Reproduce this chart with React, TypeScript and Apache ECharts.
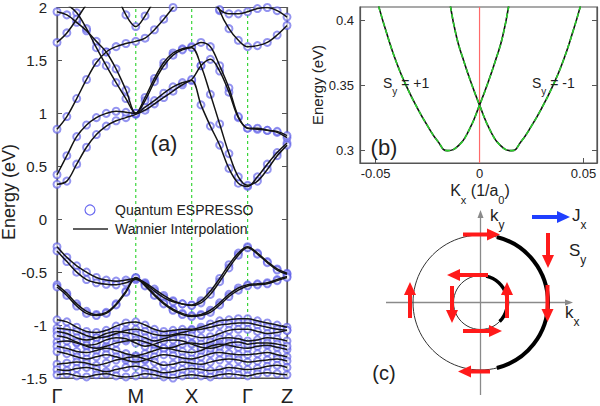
import React, { useEffect, useRef } from 'react';
import * as echarts from 'echarts';

// ---------- Panel (a): band structure ----------
const kPath = [0, 0.125, 0.25, 0.375, 0.5, 0.625, 0.75, 0.875, 1, 1.118, 1.237, 1.355, 1.473, 1.592, 1.71, 1.828, 1.947, 2.065, 2.183, 2.302, 2.42, 2.545, 2.67, 2.795, 2.92];
const symK = [0, 1, 1.71, 2.42, 2.92];
const symLabels = ['Γ', 'M', 'X', 'Γ', 'Z'];
const guideK = [1, 1.71, 2.42];
const energyRange = [-1.5, 2];

const bandL1 = [0.33, 0.36, 0.52, 0.68, 0.80, 0.88, 0.93, 0.96, 0.99, 1.03, 1.09, 1.15, 1.21, 1.27, 1.31, 1.08, 0.88, 0.70, 0.48, 0.34, 0.31, 0.40, 0.52, 0.63, 0.72];
const bandL2 = [0.42, 0.60, 0.78, 0.89, 0.96, 1.00, 1.02, 1.01, 1.00, 1.06, 1.12, 1.19, 1.25, 1.29, 1.32, 1.45, 1.51, 1.40, 1.20, 0.96, 0.86, 0.85, 0.84, 0.82, 0.77];
const bandL3 = [0.85, 0.97, 1.14, 1.32, 1.48, 1.58, 1.63, 1.66, 1.68, 1.71, 1.79, 1.89, 2.00, 2.12, 2.25, 2.45, 2.25, 1.97, 1.80, 1.69, 1.63, 1.64, 1.67, 1.74, 1.83];
const bandL4 = [1.96, 1.93, 1.86, 1.78, 1.68, 1.58, 1.42, 1.22, 1.00, 1.15, 1.33, 1.48, 1.57, 1.61, 1.63, 1.67, 1.63, 1.45, 1.24, 0.97, 0.86, 0.86, 0.84, 0.83, 0.79];
const bandL5 = [2.08, 2.03, 1.95, 1.80, 1.62, 1.45, 1.29, 1.14, 1.00, 1.12, 1.30, 1.45, 1.55, 1.60, 1.62, 1.45, 1.18, 0.90, 0.62, 0.40, 0.32, 0.36, 0.47, 0.60, 0.70];
const bandL6 = [1.67, 1.76, 1.89, 2.03, 2.15, null, null, null, null, null, null, null, null, null, null, null, null, null, null, null, null, null, null, null, null];
const bandL7 = [null, null, null, null, null, null, 2.15, 1.93, 1.82, 1.92, 2.08, null, null, null, null, null, null, null, null, null, null, null, null, null, null];
const bandL8 = [null, null, null, null, null, null, null, null, null, null, null, null, null, null, null, null, 2.08, 1.98, 1.94, 1.94, 1.96, 1.99, 2.00, 1.97, 1.91];

const bandV1 = [-0.26, -0.36, -0.44, -0.50, -0.55, -0.575, -0.585, -0.575, -0.56, -0.60, -0.66, -0.72, -0.77, -0.80, -0.81, -0.77, -0.68, -0.56, -0.43, -0.32, -0.26, -0.32, -0.40, -0.47, -0.51];
const bandV2 = [-0.30, -0.40, -0.50, -0.57, -0.60, -0.615, -0.62, -0.60, -0.57, -0.61, -0.68, -0.74, -0.78, -0.80, -0.815, -0.79, -0.71, -0.59, -0.46, -0.34, -0.27, -0.33, -0.41, -0.48, -0.52];
const bandV3 = [-0.62, -0.70, -0.80, -0.87, -0.90, -0.88, -0.80, -0.68, -0.55, -0.62, -0.71, -0.79, -0.85, -0.89, -0.91, -0.90, -0.86, -0.79, -0.71, -0.65, -0.62, -0.61, -0.60, -0.57, -0.54];
const bandV4 = [-0.64, -0.72, -0.82, -0.89, -0.91, -0.89, -0.81, -0.69, -0.555, -0.63, -0.72, -0.80, -0.86, -0.90, -0.92, -0.91, -0.88, -0.81, -0.73, -0.67, -0.63, -0.62, -0.61, -0.58, -0.55];

const bandD1 = [-0.95, -0.97, -1.02, -1.06, -1.07, -1.05, -1.01, -0.98, -0.97, -1.00, -1.04, -1.06, -1.05, -1.04, -1.04, -1.02, -0.99, -0.96, -0.95, -0.94, -0.94, -0.96, -0.98, -1.00, -1.02];
const bandD2 = [-1.03, -1.04, -1.06, -1.10, -1.12, -1.11, -1.08, -1.05, -1.04, -1.06, -1.09, -1.10, -1.09, -1.07, -1.05, -1.04, -1.02, -1.00, -0.99, -0.98, -0.98, -1.00, -1.02, -1.04, -1.05];
const bandD3 = [-1.06, -1.08, -1.12, -1.14, -1.12, -1.08, -1.06, -1.07, -1.09, -1.12, -1.15, -1.13, -1.10, -1.09, -1.10, -1.12, -1.11, -1.08, -1.05, -1.04, -1.04, -1.06, -1.08, -1.07, -1.05];
const bandD4 = [-1.16, -1.15, -1.17, -1.20, -1.22, -1.20, -1.17, -1.15, -1.14, -1.16, -1.19, -1.22, -1.21, -1.18, -1.17, -1.18, -1.16, -1.13, -1.12, -1.13, -1.15, -1.14, -1.12, -1.13, -1.15];
const bandD5 = [-1.20, -1.22, -1.25, -1.26, -1.24, -1.22, -1.24, -1.27, -1.29, -1.27, -1.24, -1.22, -1.23, -1.25, -1.26, -1.24, -1.20, -1.18, -1.19, -1.21, -1.22, -1.20, -1.19, -1.21, -1.23];
const bandD6 = [-1.25, -1.27, -1.30, -1.32, -1.30, -1.28, -1.30, -1.33, -1.35, -1.33, -1.30, -1.28, -1.29, -1.31, -1.32, -1.30, -1.27, -1.26, -1.27, -1.28, -1.28, -1.27, -1.26, -1.28, -1.30];
const bandD7 = [-1.37, -1.36, -1.35, -1.36, -1.38, -1.36, -1.33, -1.31, -1.30, -1.32, -1.35, -1.38, -1.37, -1.35, -1.36, -1.37, -1.35, -1.33, -1.32, -1.33, -1.35, -1.34, -1.33, -1.32, -1.34];
const bandD8 = [-1.42, -1.43, -1.41, -1.40, -1.42, -1.44, -1.42, -1.40, -1.39, -1.41, -1.43, -1.45, -1.44, -1.42, -1.41, -1.42, -1.43, -1.42, -1.40, -1.41, -1.42, -1.41, -1.39, -1.38, -1.40];
const bandD9 = [-1.47, -1.46, -1.48, -1.49, -1.47, -1.46, -1.48, -1.49, -1.48, -1.46, -1.47, -1.49, -1.50, -1.48, -1.47, -1.48, -1.49, -1.47, -1.46, -1.47, -1.48, -1.46, -1.45, -1.46, -1.47];
const bandD10 = [-1.10, -1.12, -1.16, -1.19, -1.18, -1.14, -1.12, -1.13, -1.17, -1.20, -1.18, -1.15, -1.14, -1.15, -1.18, -1.21, -1.22, -1.20, -1.17, -1.16, -1.18, -1.17, -1.17, -1.18, -1.20];

const allBands = [bandL1, bandL2, bandL3, bandL4, bandL5, bandL6, bandL7, bandL8, bandV1, bandV2, bandV3, bandV4, bandD1, bandD2, bandD3, bandD4, bandD5, bandD6, bandD7, bandD8, bandD9, bandD10];

// ---------- Panel (b): Rashba-split bands ----------
const kxPlus = [-0.0485, -0.045, -0.040, -0.035, -0.030, -0.025, -0.020, -0.0155, -0.010, -0.005, 0, 0.004, 0.008, 0.011, 0.014];
const eSyPlus = [0.411, 0.392, 0.368, 0.349, 0.333, 0.319, 0.307, 0.300, 0.304, 0.316, 0.335, 0.352, 0.371, 0.387, 0.411];
const kxMinus = [-0.014, -0.011, -0.008, -0.004, 0, 0.005, 0.010, 0.0155, 0.020, 0.025, 0.030, 0.035, 0.040, 0.045, 0.0485];
const eSyMinus = [0.411, 0.387, 0.371, 0.352, 0.335, 0.316, 0.304, 0.300, 0.307, 0.319, 0.333, 0.349, 0.368, 0.392, 0.411];
const kxTicks = [-0.05, 0, 0.05];
const eTicksB = [0.3, 0.35, 0.4];
const eRangeB = [0.2905, 0.4105];

const FONT = 'Liberation Sans, Arial, Helvetica, sans-serif';
const TXT = '#222';
const GREEN = '#3ad63a';

function arrowEls(x1: number, y1: number, x2: number, y2: number, color: string, w: number, hl: number, hw: number, z = 10) {
  const dx = x2 - x1, dy = y2 - y1;
  const L = Math.hypot(dx, dy);
  const ux = dx / L, uy = dy / L;
  const bx = x2 - ux * hl, by = y2 - uy * hl;
  return [
    { type: 'line', z, shape: { x1, y1, x2: bx + ux, y2: by + uy }, style: { stroke: color, lineWidth: w } },
    { type: 'polygon', z, shape: { points: [[x2, y2], [bx - uy * hw / 2, by + ux * hw / 2], [bx + uy * hw / 2, by - ux * hw / 2]] }, style: { fill: color } },
  ];
}

function txt(x: number, y: number, text: string, size: number, align = 'left', rotation = 0) {
  return {
    type: 'text', x, y, z: 20, rotation,
    style: { text, fontSize: size, fontFamily: FONT, fill: TXT, textAlign: align, align, textVerticalAlign: 'middle', verticalAlign: 'middle' },
  };
}

function richTxt(x: number, y: number, parts: [string, boolean][], size: number, subSize: number, align = 'left') {
  return {
    type: 'text', x, y, z: 20,
    style: {
      text: parts.map(([s, sub]) => `{${sub ? 'b' : 'a'}|${s}}`).join(''),
      fontFamily: FONT, fill: TXT, textAlign: align, align, textVerticalAlign: 'middle', verticalAlign: 'middle',
      rich: {
        a: { fontSize: size, fontFamily: FONT, fill: TXT, verticalAlign: 'top', lineHeight: size + 7 },
        b: { fontSize: subSize, fontFamily: FONT, fill: TXT, verticalAlign: 'bottom', lineHeight: size + 7 },
      },
    },
  };
}

export default function App() {
  const ref = useRef<HTMLDivElement>(null);
  useEffect(() => {
    if (!ref.current) return;
    const chart = echarts.init(ref.current, undefined, { renderer: 'svg' });

    const circles: number[][] = [];
    allBands.forEach((b) => b.forEach((v, i) => { if (v !== null && v >= -1.52 && v <= 2.02) circles.push([kPath[i], v as number]); }));

    const bandSeries: any[] = allBands.map((b) => ({
      type: 'line', xAxisIndex: 0, yAxisIndex: 0, smooth: 0.35, showSymbol: false, silent: true,
      data: b.map((v, i) => [kPath[i], v]),
      lineStyle: { color: '#141414', width: 1.5 },
      z: 4,
    }));

    const guideSeries: any[] = guideK.map((k) => ({
      type: 'line', xAxisIndex: 0, yAxisIndex: 0, showSymbol: false, silent: true, z: 1,
      data: [[k, energyRange[0]], [k, energyRange[1]]],
      lineStyle: { color: GREEN, type: [3, 3], width: 1.2 },
    }));

    const cx = 480.5, cy = 302.5;
    const red = '#ff1a1a';
    const gray = '#8a8a8a';

    const graphic: any[] = [
      // Panel (a) texts
      txt(9, 192, 'Energy (eV)', 18, 'center', Math.PI / 2),
      txt(164, 143, '(a)', 22, 'center'),
      { type: 'circle', z: 20, shape: { cx: 90, cy: 210, r: 5 }, style: { fill: 'none', stroke: '#6a6af0', lineWidth: 1.2 } },
      txt(115, 210, 'Quantum ESPRESSO', 14),
      { type: 'line', z: 20, shape: { x1: 73, y1: 229, x2: 108, y2: 229 }, style: { stroke: '#2a2a2a', lineWidth: 1.4 } },
      txt(115, 229, 'Wannier Interpolation', 14),
      // Panel (b) texts
      txt(317, 85, 'Energy (eV)', 15, 'center', Math.PI / 2),
      richTxt(480, 194, [['K', false], ['x', true], [' (1/a', false], ['0', true], [')', false]], 16, 11, 'center'),
      richTxt(383, 86, [['S', false], ['y', true], [' = +1', false]], 14, 10),
      richTxt(532, 86, [['S', false], ['y', true], [' = -1', false]], 14, 10),
      txt(384, 147, '(b)', 22, 'center'),
      // Panel (c)
      { type: 'circle', z: 5, shape: { cx, cy, r: 67.5 }, style: { fill: 'none', stroke: '#333', lineWidth: 1 } },
      { type: 'circle', z: 5, shape: { cx, cy, r: 27 }, style: { fill: 'none', stroke: '#333', lineWidth: 1 } },
      { type: 'arc', z: 6, shape: { cx, cy, r: 67.5, startAngle: -76 * Math.PI / 180, endAngle: 76 * Math.PI / 180, clockwise: true }, style: { fill: 'none', stroke: '#000', lineWidth: 4 } },
      { type: 'arc', z: 6, shape: { cx, cy, r: 27, startAngle: -78 * Math.PI / 180, endAngle: 45 * Math.PI / 180, clockwise: true }, style: { fill: 'none', stroke: '#000', lineWidth: 3.5 } },
      ...arrowEls(386, cy, 573, cy, gray, 1.3, 8, 6, 4),
      ...arrowEls(cx, 395, cx, 210, gray, 1.3, 8, 6, 4),
      ...arrowEls(463, 234.5, 500, 234.5, red, 4, 13, 12),
      ...arrowEls(547.5, 285, 547.5, 322, red, 4, 13, 12),
      ...arrowEls(490, 371.5, 458, 371.5, red, 4, 13, 12),
      ...arrowEls(410, 318, 410, 282, red, 4, 13, 12),
      ...arrowEls(548, 233, 548, 268, red, 4, 13, 12),
      ...arrowEls(488, 275, 447, 275, red, 4, 13, 12),
      ...arrowEls(507, 318, 507, 282, red, 4, 13, 12),
      ...arrowEls(463, 331, 502, 331, red, 4, 13, 12),
      ...arrowEls(452, 286, 452, 323, red, 4, 13, 12),
      ...arrowEls(532, 217, 570, 217, '#1f3fff', 4, 13, 12),
      richTxt(490, 219, [['k', false], ['y', true]], 17, 12),
      richTxt(565, 316, [['k', false], ['x', true]], 17, 12),
      richTxt(572, 219, [['J', false], ['x', true]], 17, 12),
      richTxt(569, 254, [['S', false], ['y', true]], 17, 12),
      txt(384, 373, '(c)', 20, 'center'),
    ];

    const axisLineStyle = { show: true, onZero: false, lineStyle: { color: '#555', width: 1.2 } };

    const option: any = {
      animation: false,
      backgroundColor: '#fff',
      textStyle: { fontFamily: FONT },
      grid: [
        { left: 57, top: 7.5, width: 230, height: 373, show: true, borderColor: '#555', borderWidth: 1.2 },
        { left: 360, top: 7, width: 237, height: 156, show: true, borderColor: '#555', borderWidth: 1.2 },
      ],
      xAxis: [
        {
          gridIndex: 0, type: 'value', min: 0, max: 2.92,
          axisLine: axisLineStyle,
          axisTick: { show: false },
          splitLine: { show: false },
          axisLabel: {
            customValues: symK, fontSize: 20, color: TXT, margin: 8, fontFamily: FONT,
            formatter: (v: number) => {
              let best = 0;
              symK.forEach((s, i) => { if (Math.abs(s - v) < Math.abs(symK[best] - v)) best = i; });
              return symLabels[best];
            },
          },
        },
        {
          gridIndex: 1, type: 'value', min: -0.0575, max: 0.0565,
          axisLine: axisLineStyle,
          axisTick: { show: true, inside: true, length: 5, customValues: kxTicks, lineStyle: { color: '#555' } },
          splitLine: { show: false },
          axisLabel: { customValues: kxTicks, fontSize: 13, color: TXT, margin: 4, fontFamily: FONT, formatter: (v: number) => String(Math.round(v * 100) / 100) },
        },
      ],
      yAxis: [
        {
          gridIndex: 0, type: 'value', min: energyRange[0], max: energyRange[1], interval: 0.5,
          axisLine: axisLineStyle,
          axisTick: { show: true, inside: true, length: 5, lineStyle: { color: '#555' } },
          splitLine: { show: false },
          axisLabel: { fontSize: 15, color: TXT, margin: 10, fontFamily: FONT },
        },
        {
          gridIndex: 0, type: 'value', position: 'right', min: energyRange[0], max: energyRange[1], interval: 0.5,
          axisLine: axisLineStyle,
          axisTick: { show: true, inside: true, length: 5, lineStyle: { color: '#555' } },
          splitLine: { show: false },
          axisLabel: { show: false },
        },
        {
          gridIndex: 1, type: 'value', min: eRangeB[0], max: eRangeB[1],
          axisLine: axisLineStyle,
          axisTick: { show: true, inside: true, length: 5, customValues: eTicksB, lineStyle: { color: '#555' } },
          splitLine: { show: false },
          axisLabel: { customValues: eTicksB, fontSize: 13, color: TXT, margin: 6, fontFamily: FONT, formatter: (v: number) => String(Math.round(v * 100) / 100) },
        },
        {
          gridIndex: 1, type: 'value', position: 'right', min: eRangeB[0], max: eRangeB[1],
          axisLine: axisLineStyle,
          axisTick: { show: true, inside: true, length: 5, customValues: eTicksB, lineStyle: { color: '#555' } },
          splitLine: { show: false },
          axisLabel: { show: false },
        },
      ],
      series: [
        ...guideSeries,
        ...bandSeries,
        {
          type: 'scatter', xAxisIndex: 0, yAxisIndex: 0, silent: true, z: 3,
          symbol: 'emptyCircle', symbolSize: 7,
          itemStyle: { color: '#5a5ae8', borderWidth: 0.9, opacity: 0.65 },
          data: circles,
        },
        {
          type: 'line', xAxisIndex: 1, yAxisIndex: 2, showSymbol: false, silent: true, z: 1,
          data: [[0, eRangeB[0]], [0, eRangeB[1]]],
          lineStyle: { color: '#ff6a6a', width: 1.2 },
        },
        {
          type: 'line', xAxisIndex: 1, yAxisIndex: 2, smooth: true, showSymbol: false, silent: true,
          data: kxPlus.map((k, i) => [k, eSyPlus[i]]),
          lineStyle: { color: '#111', width: 1.6 }, z: 3,
        },
        {
          type: 'line', xAxisIndex: 1, yAxisIndex: 2, smooth: true, showSymbol: false, silent: true,
          data: kxMinus.map((k, i) => [k, eSyMinus[i]]),
          lineStyle: { color: '#111', width: 1.6 }, z: 3,
        },
        {
          type: 'line', xAxisIndex: 1, yAxisIndex: 2, smooth: true, showSymbol: false, silent: true,
          data: kxPlus.map((k, i) => [k, eSyPlus[i]]),
          lineStyle: { color: '#2ccc2c', width: 1.6, type: [5, 3] }, z: 4,
        },
        {
          type: 'line', xAxisIndex: 1, yAxisIndex: 2, smooth: true, showSymbol: false, silent: true,
          data: kxMinus.map((k, i) => [k, eSyMinus[i]]),
          lineStyle: { color: '#2ccc2c', width: 1.6, type: [5, 3] }, z: 4,
        },
      ],
      graphic,
    };
    chart.setOption(option);
    return () => chart.dispose();
  }, []);
  return <div ref={ref} style={{ width: 600, height: 406, position: 'absolute', left: 0, top: 0 }} />;
}
